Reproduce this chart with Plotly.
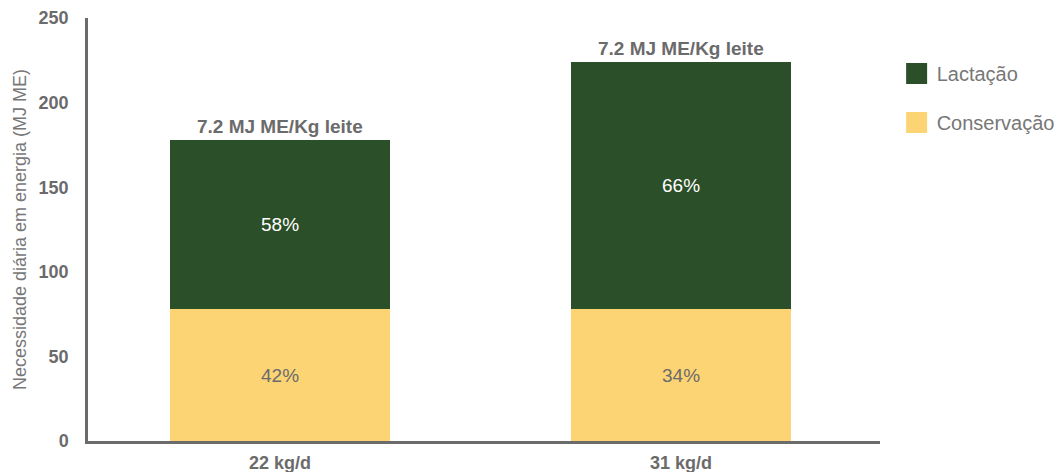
import plotly.graph_objects as go

categories = ["22 kg/d", "31 kg/d"]
conservacao = [78, 78]
lactacao = [100, 146]
pct_conservacao = ["42%", "34%"]
pct_lactacao = ["58%", "66%"]
top_labels = ["7.2 MJ ME/Kg leite", "7.2 MJ ME/Kg leite"]
y_ticks = [0, 50, 100, 150, 200, 250]

GREEN = "#2b4f28"
YELLOW = "#fdd474"
GREY = "#6b6b6b"
FONT = "Liberation Sans, Arial, sans-serif"

fig = go.Figure()
fig.add_trace(go.Bar(
    x=categories, y=conservacao, name="Conservação", marker_color=YELLOW,
    marker_line_width=0,
    text=pct_conservacao, textposition="inside", insidetextanchor="middle",
    textfont=dict(color=GREY, size=19, family=FONT), showlegend=False, width=0.549,
))
fig.add_trace(go.Bar(
    x=categories, y=lactacao, name="Lactação", marker_color=GREEN,
    marker_line_width=0,
    text=pct_lactacao, textposition="inside", insidetextanchor="middle",
    textfont=dict(color="white", size=19, family=FONT), showlegend=False, width=0.549,
))
# legend entries
fig.add_trace(go.Scatter(x=[None], y=[None], mode="markers", name="Lactação",
                         marker=dict(symbol="square", size=16, color=GREEN, line=dict(color=GREEN, width=5)),
                         legendgroup="a"))
fig.add_trace(go.Scatter(x=[None], y=[None], mode="markers", name="Conservação",
                         marker=dict(symbol="square", size=16, color=YELLOW, line=dict(color=YELLOW, width=5)),
                         legendgroup="b"))

totals = [c + l for c, l in zip(conservacao, lactacao)]
for cat, tot, lab in zip(categories, totals, top_labels):
    fig.add_annotation(x=cat, y=tot, text="<b>" + lab + "</b>", showarrow=False,
                       yanchor="bottom", yshift=1, font=dict(size=19, color=GREY, family=FONT))

# page body has an 8px default margin, so the figure is sized to fit the window
fig.update_layout(
    width=1054, height=464,
    barmode="stack",
    plot_bgcolor="white", paper_bgcolor="white",
    margin=dict(l=80, r=182, t=10, b=31, autoexpand=False),
    font=dict(family=FONT, color=GREY),
    legend=dict(x=1.021, xanchor="left", y=0.915, yanchor="top",
                font=dict(size=20, color="#777777", family=FONT),
                traceorder="grouped", tracegroupgap=20),
    uniformtext=dict(minsize=10, mode="show"),
)
fig.update_xaxes(showline=True, linecolor=GREY, linewidth=2.5, showgrid=False, automargin=False,
                 tickfont=dict(size=18, color=GREY, family=FONT),
                 tickprefix="<b>", ticksuffix="</b>", ticks="", range=[-0.479, 1.496],
                 ticklabelstandoff=4)
fig.update_yaxes(showline=True, linecolor=GREY, linewidth=2.5, showgrid=False, zeroline=False,
                 automargin=False,
                 range=[0, 250], tickvals=y_ticks, ticktext=["<b>%d</b>" % v for v in y_ticks],
                 tickfont=dict(size=18, color=GREY, family=FONT), ticks="", ticklabelstandoff=13,
                 title=dict(text="Necessidade diária em energia (MJ ME)",
                            font=dict(size=18, color="#777777", family=FONT), standoff=8))

fig.write_html("out.html")
